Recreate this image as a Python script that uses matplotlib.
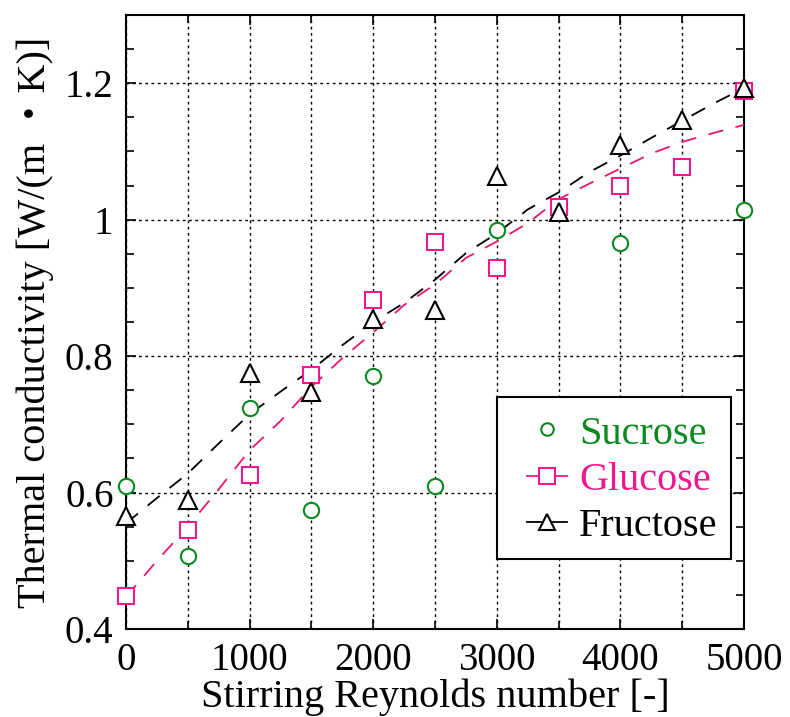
import numpy as np
import matplotlib.pyplot as plt
from matplotlib.lines import Line2D
from matplotlib.patches import Rectangle
from matplotlib.ticker import MultipleLocator

plt.rcParams['font.family'] = ['Liberation Serif', 'Noto Sans CJK JP', 'DejaVu Serif']

# measured points
re = [0, 500, 1000, 1500, 2000, 2500, 3000, 3500, 4000, 4500, 5000]
sucrose_re = [0, 500, 1000, 1500, 2000, 2500, 3000, 3500, 4000, 5000]
sucrose = [0.610, 0.507, 0.724, 0.574, 0.771, 0.610, 0.985, 1.017, 0.966, 1.014]
glucose = [0.448, 0.545, 0.626, 0.772, 0.882, 0.968, 0.929, 1.018, 1.050, 1.078, 1.188]
fructose = [0.565, 0.589, 0.775, 0.747, 0.854, 0.867, 1.064, 1.011, 1.109, 1.146, 1.193]

# fitted curves
fit_re = [0, 250, 500, 750, 1000, 1250, 1500, 1750, 2000, 2250, 2500,
          2750, 3000, 3250, 3500, 3750, 4000, 4250, 4500, 4750, 5000]
glucose_fit = [0.447, 0.500, 0.550, 0.605, 0.662, 0.705, 0.755, 0.797, 0.835,
               0.875, 0.905, 0.944, 0.968, 0.995, 1.030, 1.053, 1.075, 1.097,
               1.114, 1.127, 1.139]
fructose_fit = [0.555, 0.592, 0.628, 0.672, 0.715, 0.748, 0.780, 0.816, 0.850,
                0.878, 0.912, 0.951, 0.980, 1.015, 1.040, 1.070, 1.094, 1.120,
                1.145, 1.170, 1.193]

green = '#0a8a1e'
pink = '#f0188c'
pink_line = '#e6176e'

fig = plt.figure(figsize=(7.9, 7.17), dpi=100)
ax = fig.add_axes([0.1595, 0.1227, 0.7823, 0.8563])

dash = (0, (8.5, 7))
ax.plot(fit_re, glucose_fit, color=pink_line, lw=1.3, linestyle=dash, zorder=3)
ax.plot(fit_re, fructose_fit, color='black', lw=1.3, linestyle=dash, zorder=3)

mk = dict(linestyle='none', mfc='white', mew=1.5, zorder=5, clip_on=False)
ax.plot(sucrose_re, sucrose, marker='o', ms=11, color=green, **mk)
ax.plot(re, glucose, marker='s', ms=11, color=pink, **mk)
ax.plot(re, fructose, marker='^', ms=13, color='black', **mk)

ax.set_xlim(0, 5000)
ax.set_ylim(0.4, 1.3)
ax.xaxis.set_major_locator(MultipleLocator(1000))
ax.xaxis.set_minor_locator(MultipleLocator(500))
ax.yaxis.set_minor_locator(MultipleLocator(0.05))
ax.set_yticks([0.4, 0.6, 0.8, 1.0, 1.2])
ax.set_yticklabels(['0.4', '0.6', '0.8', '1', '1.2'])

ax.grid(True, which='major', axis='y', color='black', lw=1, linestyle=(0, (2, 2.5)))
ax.grid(True, which='both', axis='x', color='black', lw=1, linestyle=(0, (2, 2.5)))

ax.tick_params(which='both', direction='in', top=True, right=True,
               labelsize=28, width=1.2)
ax.tick_params(which='major', length=7, pad=9)
ax.tick_params(which='minor', length=6)
for s in ax.spines.values():
    s.set_linewidth(1.5)

ax.set_xlabel('Stirring Reynolds number [-]', fontsize=29, labelpad=0)
ax.set_ylabel('Thermal conductivity [W/(m \u30fbK)]', fontsize=29, labelpad=8)

# legend box
box = Rectangle((0.6003, 0.114), 0.3786, 0.2638, transform=ax.transAxes,
                facecolor='white', edgecolor='black', lw=1.5, zorder=9)
ax.add_patch(box)

handles = [
    Line2D([], [], marker='o', ms=9, mfc='white', mew=1.5, color=green, linestyle='none'),
    Line2D([], [], marker='s', ms=11, mfc='white', mew=1.5, color=pink, lw=1.3),
    Line2D([], [], marker='^', ms=12, mfc='white', mew=1.5, color='black', lw=1.3),
]
leg = ax.legend(handles, ['Sucrose', 'Glucose', 'Fructose'], loc='center',
                bbox_to_anchor=(0.8026, 0.2427), fontsize=29, frameon=False,
                handlelength=1.0, handletextpad=0.3, labelspacing=0.22,
                borderpad=0, borderaxespad=0)
leg.set_zorder(10)
for t, c in zip(leg.get_texts(), [green, pink, 'black']):
    t.set_color(c)

fig.savefig('out.png', dpi=100)
